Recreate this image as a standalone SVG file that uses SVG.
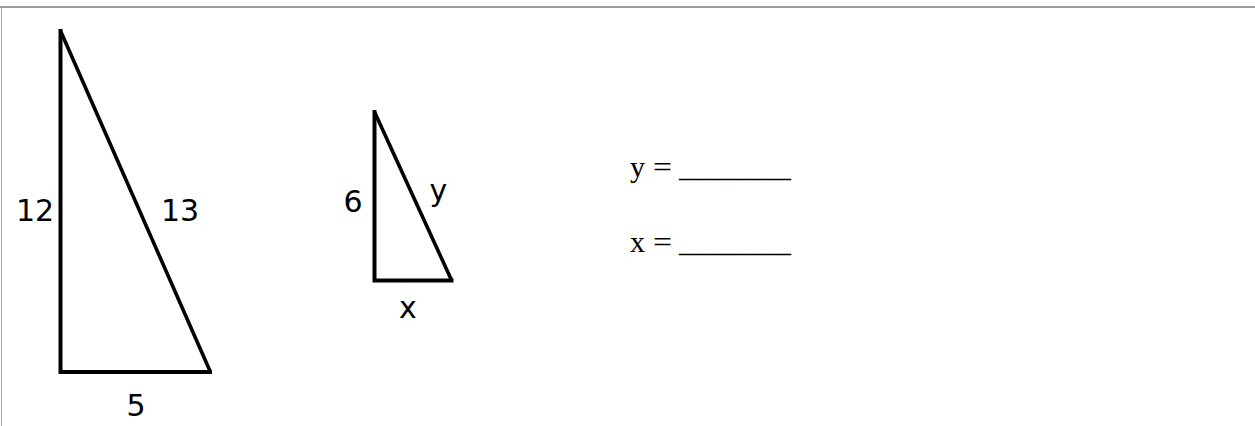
<svg xmlns="http://www.w3.org/2000/svg" width="1255" height="426" viewBox="0 0 1255 426">
  <style>
    .leg { stroke: #000; stroke-width: 4; fill: none; stroke-linecap: square; }
    .hyp { stroke: #000; stroke-width: 3.6; fill: none; stroke-linecap: round; }
    .lbl { font-family: "DejaVu Sans", "Liberation Sans", sans-serif; font-size: 30px; fill: #000; text-anchor: middle; }
    .eq { font-family: "Liberation Serif", "Times New Roman", serif; font-size: 30px; fill: #000; }
  </style>
  <rect x="0" y="0" width="1255" height="426" fill="#fff"/>
  <g id="frame">
    <line x1="0" y1="7" x2="1255" y2="7" stroke="#9c9c9c" stroke-width="2"/>
    <line x1="1.5" y1="7" x2="1.5" y2="426" stroke="#a8a8a8" stroke-width="1"/>
  </g>
  <g id="big-triangle">
    <path class="leg" d="M60.5 31 L60.5 372 L210 372"/>
    <line class="hyp" x1="61" y1="32" x2="210" y2="371"/>
    <text class="lbl" x="35" y="221">12</text>
    <text class="lbl" x="180" y="221">13</text>
    <text class="lbl" x="136" y="416">5</text>
  </g>
  <g id="small-triangle">
    <path class="leg" d="M374.5 112 L374.5 280.5 L451.5 280.5"/>
    <line class="hyp" x1="375" y1="113" x2="451" y2="279"/>
    <text class="lbl" x="353" y="212">6</text>
    <text class="lbl" x="438.5" y="201">y</text>
    <text class="lbl" x="408" y="318">x</text>
  </g>
  <g id="answers">
    <text class="eq" x="630" y="177">y <tspan x="653" textLength="19" lengthAdjust="spacingAndGlyphs">=</tspan> <tspan x="679" textLength="112" lengthAdjust="spacingAndGlyphs">________</tspan></text>
    <text class="eq" x="630" y="252">x <tspan x="653" textLength="19" lengthAdjust="spacingAndGlyphs">=</tspan> <tspan x="679" textLength="112" lengthAdjust="spacingAndGlyphs">________</tspan></text>
  </g>
</svg>
